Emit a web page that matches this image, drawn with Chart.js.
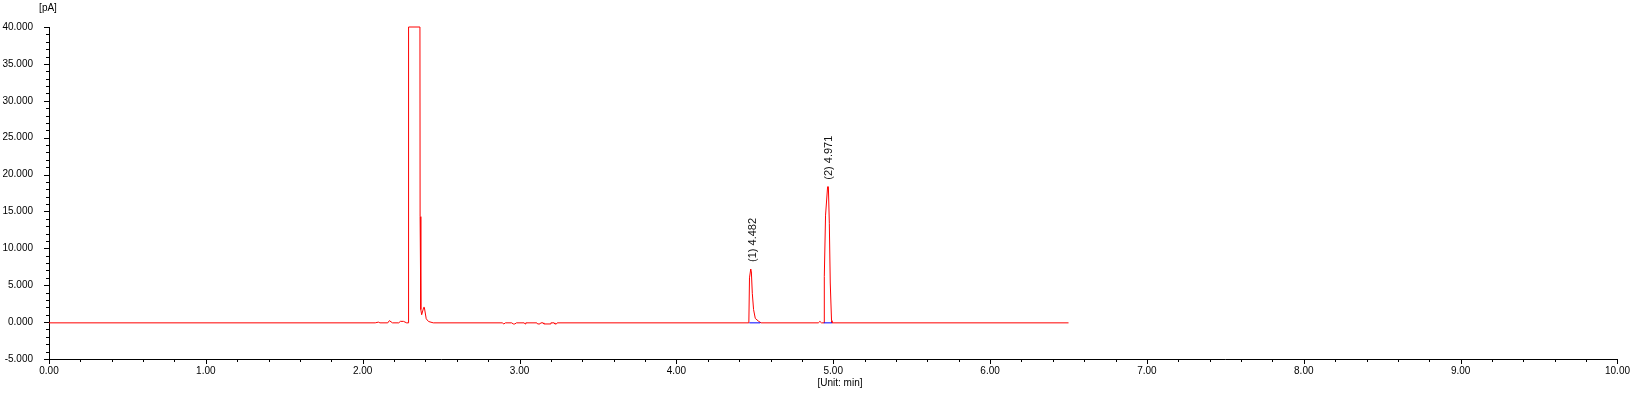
<!DOCTYPE html>
<html>
<head>
<meta charset="utf-8">
<script src="https://cdn.jsdelivr.net/npm/chart.js@4.4.1/dist/chart.umd.min.js"></script>
<style>
  html, body { margin: 0; padding: 0; background: #fff; }
  canvas { display: block; }
</style>
</head>
<body>
<canvas id="c" width="1636" height="394"></canvas>
<script>
// ---- data ----
const traceTimes = [
  0.00, 2.08, 2.10, 2.11, 2.16, 2.17, 2.19, 2.23, 2.24, 2.26, 2.28,
  2.289, 2.290, 2.295, 2.365, 2.366, 2.370, 2.371, 2.376, 2.389, 2.393, 2.405, 2.42, 2.45,
  2.89, 2.90, 2.91, 2.95, 2.96, 2.97, 2.98, 3.03, 3.035, 3.04, 3.11, 3.115, 3.13, 3.135,
  3.15, 3.155, 3.195, 3.20, 3.22, 3.225, 3.235, 3.24,
  4.462, 4.466, 4.474, 4.478, 4.484, 4.492, 4.503, 4.525, 4.54,
  4.905, 4.915, 4.925, 4.942, 4.943, 4.951, 4.964, 4.969, 4.975, 4.981, 4.989, 4.992,
  6.50
];
const traceValues = [
  -0.1, -0.1, 0.0, -0.1, -0.1, 0.2, -0.1, -0.1, 0.1, 0.1, -0.1,
  -0.1, 16.8, 40.0, 40.0, 14.3, 11.6, 1.7, 1.0, 2.0, 2.0, 0.45, 0.08, -0.1,
  -0.1, -0.25, -0.1, -0.1, -0.25, -0.25, -0.1, -0.1, -0.25, -0.1, -0.1, -0.25, -0.25, -0.1,
  -0.1, -0.25, -0.25, -0.1, -0.1, -0.25, -0.25, -0.1,
  -0.1, 6.0, 7.2, 6.8, 3.9, 1.7, 0.5, 0.1, -0.1,
  -0.1, 0.1, -0.1, -0.1, 6.2, 14.5, 18.35, 18.35, 13.4, 5.3, 0.2, -0.1,
  -0.1
];
// integration baselines (blue)
const baselineTimes  = [4.465, 4.535, null, 4.940, 4.992];
const baselineValues = [-0.1, -0.1, null, -0.1, -0.1];
// peak annotations
const peakLabels = ["(1) 4.482", "(2) 4.971"];
const peakTimes  = [4.482, 4.971];
const peakTops   = [7.2, 18.35];
// axes
const xMin = 0, xMax = 10, xStep = 1, xMinor = 0.2;
const yMin = -5, yMax = 40, yStep = 5, yMinor = 1;
const xTitle = "[Unit: min]";
const yTitle = "[pA]";

const tracePts = traceTimes.map((t, i) => ({ x: t, y: traceValues[i] }));
const basePts = baselineTimes.map((t, i) => (t === null ? { x: NaN, y: null } : { x: t, y: baselineValues[i] }));

const FONT = "'Liberation Sans', Arial, sans-serif";

const decorPlugin = {
  id: 'decor',
  afterDraw(chart) {
    const ctx = chart.ctx;
    const xs = chart.scales.x, ys = chart.scales.y;
    const area = chart.chartArea;
    ctx.save();
    ctx.strokeStyle = '#000';
    ctx.lineWidth = 1;
    ctx.beginPath();
    // x ticks
    const nx = Math.round((xMax - xMin) / xMinor);
    for (let i = 0; i <= nx; i++) {
      const v = xMin + i * xMinor;
      const px = Math.round(xs.getPixelForValue(v)) + 0.5;
      const major = (i % Math.round(xStep / xMinor)) === 0;
      const len = major ? 5 : 3;
      ctx.moveTo(px, area.bottom);
      ctx.lineTo(px, area.bottom + len);
    }
    // y ticks
    const ny = Math.round((yMax - yMin) / yMinor);
    for (let i = 0; i <= ny; i++) {
      const v = yMin + i * yMinor;
      const py = Math.round(ys.getPixelForValue(v)) + 0.5;
      const major = (i % Math.round(yStep / yMinor)) === 0;
      const len = major ? 5 : 3;
      ctx.moveTo(area.left, py);
      ctx.lineTo(area.left - len, py);
    }
    ctx.stroke();

    // axis titles
    ctx.fillStyle = '#000';
    ctx.font = '10px ' + FONT;
    ctx.textAlign = 'center';
    ctx.textBaseline = 'middle';
    ctx.fillText(yTitle, 48, 8);
    ctx.fillText(xTitle, 840, 383);

    // peak annotations (rotated)
    ctx.font = '11px ' + FONT;
    ctx.fillStyle = '#111';
    for (let i = 0; i < peakLabels.length; i++) {
      const px = xs.getPixelForValue(peakTimes[i]);
      const py = ys.getPixelForValue(peakTops[i]) - 7;
      ctx.save();
      ctx.translate(px + 0.5, py);
      ctx.rotate(-Math.PI / 2);
      ctx.textAlign = 'left';
      ctx.textBaseline = 'middle';
      ctx.fillText(peakLabels[i], 0, 0);
      ctx.restore();
    }
    ctx.restore();
  }
};

new Chart(document.getElementById('c'), {
  type: 'line',
  data: {
    datasets: [
      {
        data: basePts,
        borderColor: '#0000ff',
        borderWidth: 1,
        pointRadius: 0,
        spanGaps: false,
        order: 0,
        clip: false
      },
      {
        data: tracePts,
        borderColor: '#ff0000',
        borderWidth: 1,
        pointRadius: 0,
        tension: 0,
        order: 1,
        clip: false
      }
    ]
  },
  options: {
    responsive: false,
    animation: false,
    devicePixelRatio: 1,
    parsing: true,
    layout: { padding: { top: 27, right: 16, left: 0, bottom: 0 } },
    plugins: { legend: { display: false }, tooltip: { enabled: false } },
    scales: {
      x: {
        type: 'linear',
        min: xMin, max: xMax,
        afterFit(s) { s.height = 35; },
        ticks: {
          stepSize: xStep,
          autoSkip: false,
          maxRotation: 0,
          padding: 6,
          color: '#000',
          font: { family: FONT, size: 10 },
          callback: v => Number(v).toFixed(2)
        },
        grid: { drawOnChartArea: false, drawTicks: false },
        border: { display: true, color: '#000', width: 1 }
      },
      y: {
        type: 'linear',
        min: yMin, max: yMax,
        afterFit(s) { s.width = 49; },
        ticks: {
          stepSize: yStep,
          autoSkip: false,
          padding: 16,
          color: '#000',
          font: { family: FONT, size: 10 },
          callback: v => Number(v).toFixed(3)
        },
        grid: { drawOnChartArea: false, drawTicks: false },
        border: { display: true, color: '#000', width: 1 }
      }
    }
  },
  plugins: [decorPlugin]
});
</script>
</body>
</html>
